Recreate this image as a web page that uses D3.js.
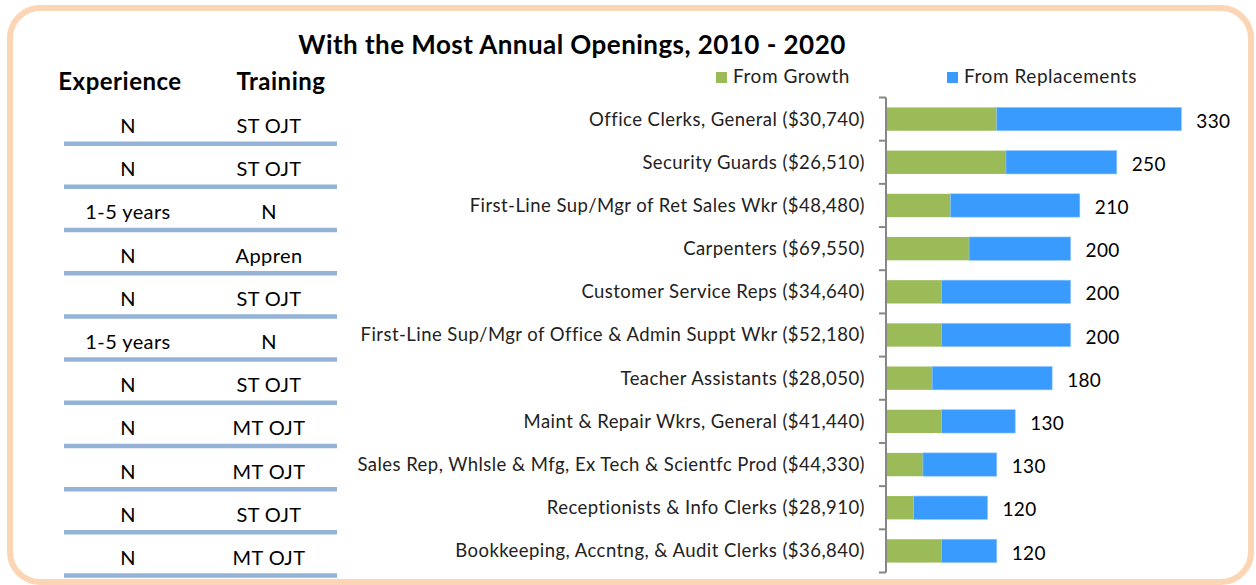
<!DOCTYPE html>
<html>
<head>
<meta charset="utf-8">
<script src="https://cdn.jsdelivr.net/npm/d3@7"></script>
<style>
  body { margin: 0; background: #fff; }
  svg { display: block; font-family: Lato, "Open Sans", sans-serif; }
</style>
</head>
<body>
<svg id="viz" width="1256" height="585"></svg>
<script>
const occupations = [
    "Office Clerks, General ($30,740)",
    "Security Guards ($26,510)",
    "First-Line Sup/Mgr of Ret Sales Wkr ($48,480)",
    "Carpenters ($69,550)",
    "Customer Service Reps ($34,640)",
    "First-Line Sup/Mgr of Office & Admin Suppt Wkr ($52,180)",
    "Teacher Assistants ($28,050)",
    "Maint & Repair Wkrs, General ($41,440)",
    "Sales Rep, Whlsle & Mfg, Ex Tech & Scientfc Prod ($44,330)",
    "Receptionists & Info Clerks ($28,910)",
    "Bookkeeping, Accntng, & Audit Clerks ($36,840)"
];
const fromGrowth = [120, 130, 70, 90, 60, 60, 50, 60, 40, 30, 60];
const fromReplacements = [200, 120, 140, 110, 140, 140, 130, 80, 80, 80, 60];
const totalLabels = ["330", "250", "210", "200", "200", "200", "180", "130", "130", "120", "120"];
const experience = ["N", "N", "1-5 years", "N", "N", "1-5 years", "N", "N", "N", "N", "N"];
const training = ["ST OJT", "ST OJT", "N", "Appren", "ST OJT", "N", "ST OJT", "MT OJT", "MT OJT", "ST OJT", "MT OJT"];
const seriesNames = ["From Growth", "From Replacements"];

const colors = {growth: "#9bbb59", repl: "#3a9bff"};
const svg = d3.select("#viz");

// frame
svg.append("rect")
    .attr("x", 10).attr("y", 8)
    .attr("width", 1241).attr("height", 574)
    .attr("rx", 30).attr("ry", 30)
    .attr("fill", "#fff")
    .attr("stroke", "#fcd5b5")
    .attr("stroke-width", 6);

svg.append("text")
    .attr("x", 572).attr("y", 54)
    .attr("text-anchor", "middle")
    .style("font-size", "26px").style("font-weight", "bold")
    .style("letter-spacing", "0.45px")
    .text("With the Most Annual Openings, 2010 - 2020");

const y = d3.scaleBand()
    .domain(occupations)
    .range([97.5, 572.5])
    .paddingInner(0.46)
    .paddingOuter(0.23);

const x = d3.scaleLinear()
    .domain([0, 400])
    .range([886, 886 + 400 * 0.923]);

const rows = occupations.map((name, i) => ({
    name,
    growth: fromGrowth[i],
    repl: fromReplacements[i],
    label: totalLabels[i],
    exp: experience[i],
    train: training[i]
}));

// bars
const bar = svg.append("g").selectAll("g")
    .data(rows)
    .enter().append("g");

bar.append("rect")
    .attr("x", x(0))
    .attr("y", (d) => y(d.name))
    .attr("width", (d) => x(d.growth) - x(0))
    .attr("height", y.bandwidth())
    .attr("fill", colors.growth);

bar.append("rect")
    .attr("x", (d) => x(d.growth))
    .attr("y", (d) => y(d.name))
    .attr("width", (d) => x(d.growth + d.repl) - x(d.growth))
    .attr("height", y.bandwidth())
    .attr("fill", colors.repl)
    .attr("stroke", "#8cc4ff")
    .attr("stroke-width", 0.6);

bar.append("text")
    .attr("x", (d) => x(d.growth + d.repl) + 15)
    .attr("y", (d) => y(d.name) + y.bandwidth() / 2 + 2)
    .attr("dy", "0.35em")
    .style("font-size", "19px")
    .style("letter-spacing", "0.3px")
    .text((d) => d.label);

// category axis
const step = y.step();
const axis = svg.append("g").attr("stroke", "#868686").attr("stroke-width", 2);
axis.append("line")
    .attr("x1", x(0)).attr("x2", x(0))
    .attr("y1", 97.5).attr("y2", 572.5);
axis.selectAll("line.tick")
    .data(d3.range(occupations.length + 1))
    .enter().append("line")
    .attr("class", "tick")
    .attr("x1", x(0) - 7).attr("x2", x(0))
    .attr("y1", (i) => 97.5 + i * step)
    .attr("y2", (i) => 97.5 + i * step);

svg.append("g").selectAll("text")
    .data(rows)
    .enter().append("text")
    .attr("x", 865)
    .attr("y", (d) => y(d.name) + y.bandwidth() / 2)
    .attr("dy", "0.35em")
    .attr("text-anchor", "end")
    .attr("fill", "#222")
    .style("font-size", "18.5px")
    .style("letter-spacing", "0.45px")
    .text((d) => d.name);

// legend
const legend = svg.append("g").selectAll("g")
    .data(seriesNames)
    .enter().append("g")
    .attr("transform", (d, i) => `translate(${i === 0 ? 716 : 947},72)`);
legend.append("rect")
    .attr("width", 11).attr("height", 11)
    .attr("fill", (d, i) => i === 0 ? colors.growth : colors.repl);
legend.append("text")
    .attr("x", 17).attr("y", 11)
    .attr("fill", "#222")
    .style("font-size", "19px")
    .style("letter-spacing", "0.55px")
    .text((d) => d);

// left table
const colExp = 128, colTrain = 269;
svg.append("text")
    .attr("x", 120).attr("y", 90)
    .attr("text-anchor", "middle")
    .style("font-size", "24px").style("font-weight", "bold")
    .style("letter-spacing", "0.5px")
    .text("Experience");
svg.append("text")
    .attr("x", 281).attr("y", 90)
    .attr("text-anchor", "middle")
    .style("font-size", "24px").style("font-weight", "bold")
    .style("letter-spacing", "0.5px")
    .text("Training");

const table = svg.append("g").selectAll("g")
    .data(rows)
    .enter().append("g")
    .attr("transform", (d) => `translate(0,${y(d.name) + y.bandwidth() / 2})`);
table.append("text")
    .attr("x", colExp).attr("y", 7)
    .attr("dy", "0.35em")
    .attr("text-anchor", "middle")
    .style("font-size", "20px")
    .style("letter-spacing", "0.4px")
    .text((d) => d.exp);
table.append("text")
    .attr("x", colTrain).attr("y", 7)
    .attr("dy", "0.35em")
    .attr("text-anchor", "middle")
    .style("font-size", "20px")
    .style("letter-spacing", "0.4px")
    .text((d) => d.train);
table.append("line")
    .attr("x1", 64).attr("x2", 337)
    .attr("y1", step / 2 + 3).attr("y2", step / 2 + 3)
    .attr("stroke", "#95b3d7")
    .attr("stroke-width", 4.5);
</script>
</body>
</html>
